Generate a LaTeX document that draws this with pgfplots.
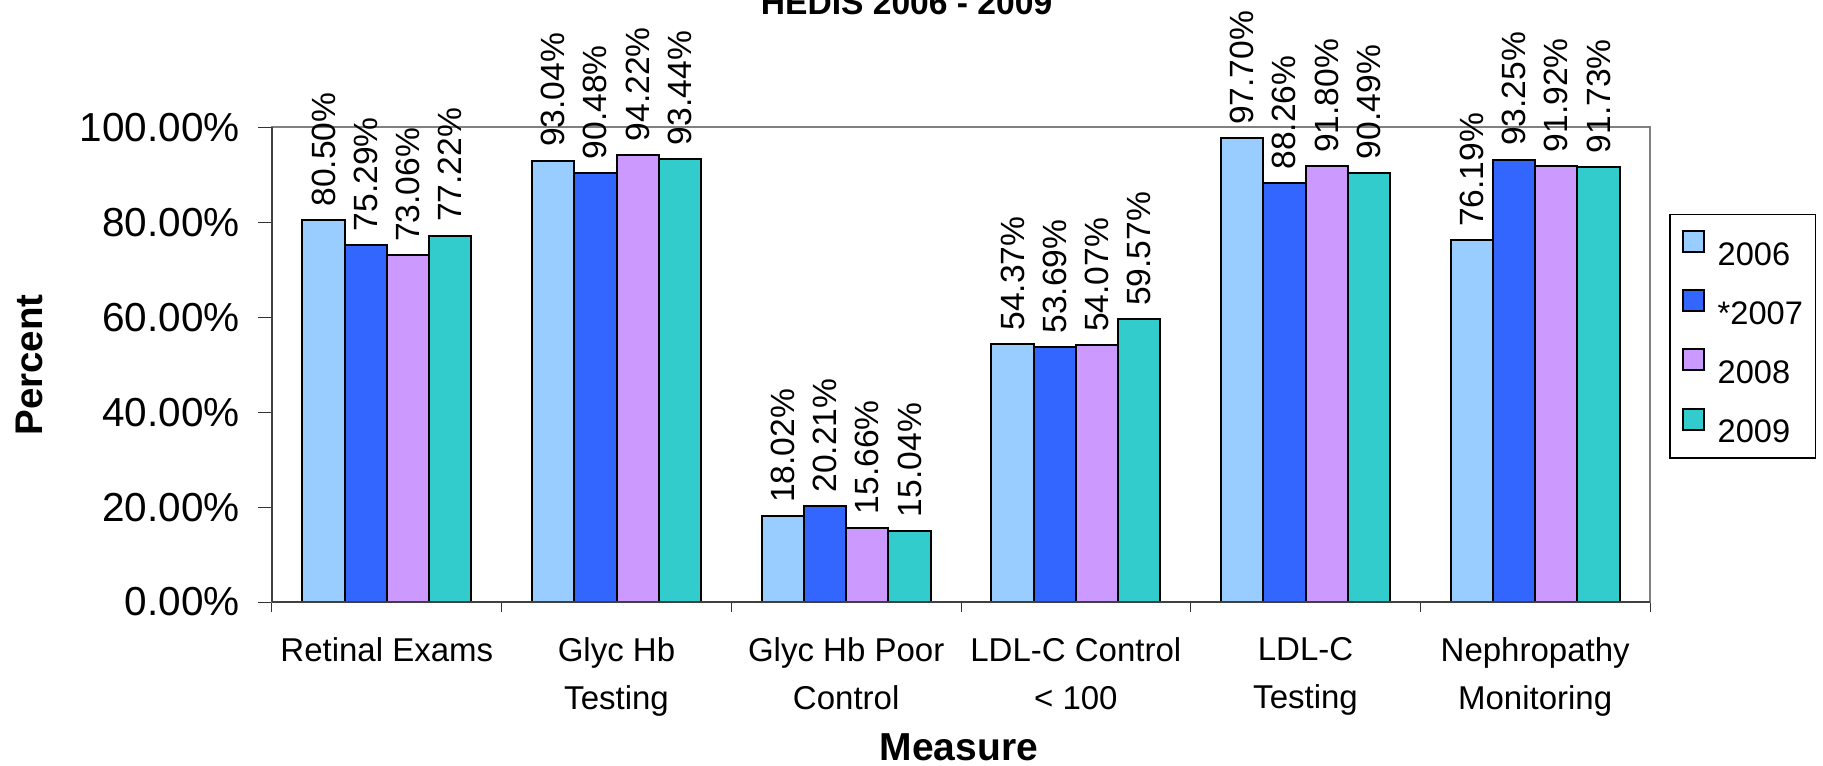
\documentclass[border=0pt]{standalone}
\usepackage{fontspec}
\setmainfont{Liberation Sans}
\usepackage{pgfplots}
\pgfplotsset{compat=1.18}
\definecolor{c06}{HTML}{99CCFF}
\definecolor{c07}{HTML}{3366FF}
\definecolor{c08}{HTML}{CC99FF}
\definecolor{c09}{HTML}{33CCCC}
\definecolor{framegray}{HTML}{808080}
\begin{document}
\begin{tikzpicture}
\begin{axis}[
  at={(0,0)}, anchor=south west, name=ax,
  scale only axis, width=689pt, height=237.25pt,
  ymin=0, ymax=100, xmin=-0.5, xmax=5.5,
  ybar=0pt, bar width=0.184,
  clip=false,
  /pgf/number format/assume math mode=true,
  axis line style={draw=framegray, line width=1pt},
  tick pos=left,
  xtick={0,...,5},
  xticklabels={Retinal Exams, {Glyc Hb\\Testing}, {Glyc Hb Poor\\Control}, {LDL-C Control\\< 100}, {LDL-C\\Testing}, {Nephropathy\\Monitoring}},
  major x tick style={draw=none},
  minor xtick={-0.5,0.5,...,5.5},
  minor x tick style={black!80, line width=0.5pt},
  minor tick length=5pt,
  ytick={0,20,...,100},
  major tick length=6.75pt,
  tick align=outside,
  y tick style={black!80, line width=0.5pt},
  yticklabel={\pgfmathprintnumber[fixed,fixed zerofill,precision=2]{\tick}\%},
  yticklabel style={font=\fontsize{20.25}{24}\selectfont, inner sep=0pt, anchor=east, xshift=-9.25pt},
  xticklabel style={font=\fontsize{16.5}{23.85}\selectfont, align=center, inner sep=0pt, anchor=north, yshift=-11pt},
  title={HEDIS 2006 - 2009},
  title style={at={(axis description cs:0.4605,1.2139)}, anchor=base, inner sep=0pt, font=\bfseries\fontsize{16.8}{20}\selectfont},
  xlabel={Measure},
  xlabel style={at={(axis description cs:0.4985,-0.3330)}, anchor=base, inner sep=0pt, font=\bfseries\fontsize{19.5}{22}\selectfont},
  ylabel={Percent},
  ylabel style={at={(axis description cs:-0.1662,0.4995)}, rotate=0, anchor=base, inner sep=0pt, font=\bfseries\fontsize{19.25}{22}\selectfont},
  nodes near coords={\pgfmathprintnumber[fixed,fixed zerofill,precision=2]{\pgfplotspointmeta}\%},
  every node near coord/.append style={rotate=90, anchor=west, inner xsep=6.3pt, inner ysep=0pt, font=\fontsize{16.8}{20}\selectfont, black},
  legend image code/.code={\draw[#1, line width=1pt] (0pt,0.6pt) rectangle (10.5pt,11.1pt);},
  legend cell align=left,
  legend style={at={(axis description cs:1.014,0.8177)}, anchor=north west, draw=black, line width=0.6pt,
    inner xsep=6.2pt, inner ysep=7.8pt, row sep=12.1pt,
    font=\fontsize{16.3}{19}\selectfont,
    nodes={inner sep=0pt, text height=11.7pt, text depth=0pt},
    /tikz/every odd column/.append style={column sep=6.2pt}},
]
\addplot[fill=c06, draw=black, line width=1pt] coordinates {(0,80.50) (1,93.04) (2,18.02) (3,54.37) (4,97.70) (5,76.19)};
\addplot[fill=c07, draw=black, line width=1pt] coordinates {(0,75.29) (1,90.48) (2,20.21) (3,53.69) (4,88.26) (5,93.25)};
\addplot[fill=c08, draw=black, line width=1pt] coordinates {(0,73.06) (1,94.22) (2,15.66) (3,54.07) (4,91.80) (5,91.92)};
\addplot[fill=c09, draw=black, line width=1pt] coordinates {(0,77.22) (1,93.44) (2,15.04) (3,59.57) (4,90.49) (5,91.73)};
\legend{2006,*2007,2008,2009}
\draw[black!75, line width=0.6pt] (rel axis cs:0,0) -- (rel axis cs:0,1);
\draw[black!75, line width=0.6pt] (rel axis cs:0,0) -- (rel axis cs:1,0);
\end{axis}
\pgfresetboundingbox
\path[use as bounding box] (-136pt,-81.5pt) rectangle (775.5pt,301pt);
\end{tikzpicture}
\end{document}
